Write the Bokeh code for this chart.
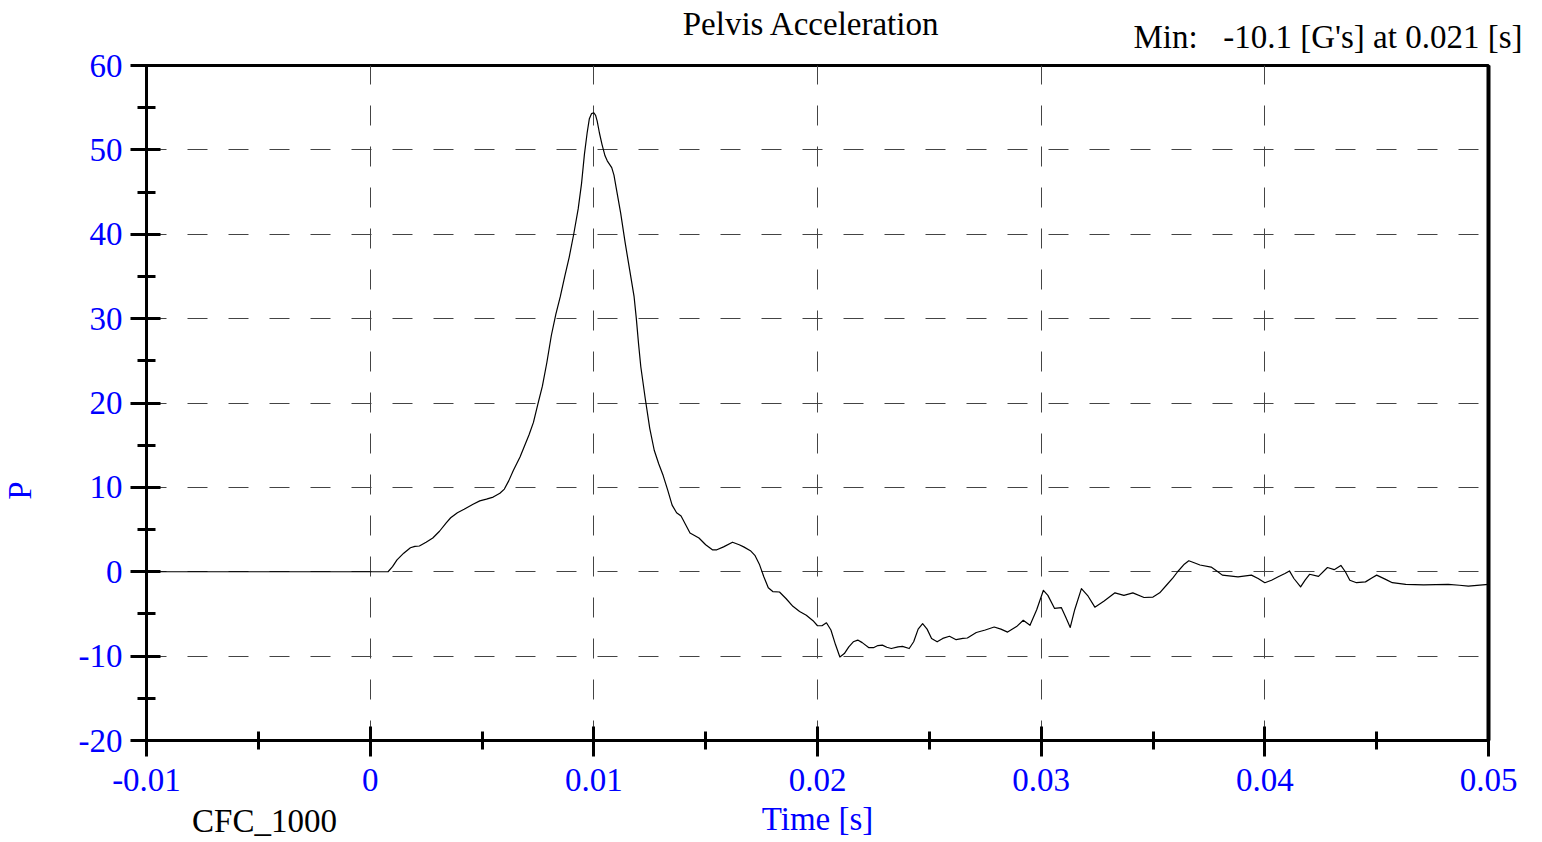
from bokeh.plotting import figure
from bokeh.models import Range1d, FixedTicker, LinearAxis, GridBox
from bokeh.layouts import column
from bokeh.core.properties import value
from bokeh.embed import file_html
from bokeh.resources import INLINE
import math

# ---- data ----
time_s = [-0.01, 0.0008, 0.0010, 0.0012, 0.0015, 0.0018, 0.0020, 0.0022, 0.0025, 0.0028,
          0.0031, 0.0034, 0.0036, 0.0039, 0.0042, 0.0046, 0.0049, 0.0052, 0.0055, 0.0058,
          0.0060, 0.0062, 0.0064, 0.0067, 0.0069, 0.0071, 0.0073, 0.0075, 0.0077, 0.0079,
          0.0081, 0.0083, 0.0085, 0.0087, 0.0089, 0.0091, 0.0093, 0.00945, 0.00958, 0.0097,
          0.0098, 0.0099, 0.0100, 0.01008, 0.01015, 0.01025, 0.01037, 0.0105, 0.0106, 0.0108,
          0.0109, 0.0110, 0.0112, 0.0114, 0.0116, 0.0118, 0.0119, 0.0120, 0.0121, 0.0123,
          0.0125, 0.0127, 0.0129, 0.0131, 0.0133, 0.0135, 0.0137, 0.0139, 0.0141, 0.0143,
          0.0145, 0.0147, 0.0150, 0.0153, 0.0155, 0.0158, 0.0162, 0.0165, 0.0167, 0.0170,
          0.0172, 0.0174, 0.0176, 0.0178, 0.0180, 0.0183, 0.0186, 0.0189, 0.0192, 0.0195,
          0.0198, 0.0200, 0.0202, 0.0204, 0.0206, 0.0208, 0.0210, 0.0212, 0.0214, 0.0216,
          0.0218, 0.0220, 0.0223, 0.0225, 0.0227, 0.0229, 0.0231, 0.0233, 0.0236, 0.0238,
          0.0241, 0.0243, 0.0245, 0.0247, 0.0249, 0.0251, 0.02535, 0.0256, 0.0259, 0.0262,
          0.0265, 0.0267, 0.0271, 0.0275, 0.0279, 0.0282, 0.0285, 0.0289, 0.0292, 0.0295,
          0.0298, 0.0301, 0.0303, 0.0306, 0.0309, 0.0311, 0.0313, 0.0315, 0.0318, 0.0321,
          0.0324, 0.0328, 0.0333, 0.0337, 0.0341, 0.0346, 0.0350, 0.0353, 0.0356, 0.0359,
          0.0361, 0.0364, 0.0366, 0.0369, 0.0371, 0.0376, 0.0379, 0.0381, 0.0388, 0.0394,
          0.0397, 0.0400, 0.0403, 0.0406, 0.0409, 0.0411, 0.0413, 0.0416, 0.0418, 0.0420,
          0.0424, 0.0428, 0.0431, 0.0434, 0.0436, 0.0438, 0.0441, 0.0445, 0.0448, 0.0450,
          0.0454, 0.0457, 0.0463, 0.0471, 0.0482, 0.0487, 0.0491, 0.0500]
accel_g = [0.0, 0.0, 0.6, 1.4, 2.2, 2.85, 3.0, 3.05, 3.5, 4.0,
           4.8, 5.8, 6.4, 7.0, 7.4, 8.0, 8.4, 8.6, 8.85, 9.3,
           9.8, 10.8, 12.0, 13.6, 14.9, 16.2, 17.7, 19.9, 22.0, 24.8,
           28.0, 30.5, 32.6, 35.0, 37.3, 40.0, 43.0, 46.0, 49.5, 52.0,
           53.7, 54.3, 54.4, 54.1, 53.4, 52.0, 50.6, 49.3, 48.7, 47.9,
           47.0, 45.5, 42.5, 39.0, 35.8, 32.6, 30.0, 27.0, 24.3, 20.5,
           17.0, 14.4, 12.8, 11.4, 9.7, 7.9, 7.0, 6.6, 5.6, 4.6,
           4.3, 4.0, 3.2, 2.6, 2.6, 2.95, 3.5, 3.2, 2.95, 2.5,
           1.95, 0.9, -0.6, -1.9, -2.35, -2.4, -3.2, -4.1, -4.7, -5.15,
           -5.8, -6.4, -6.4, -6.05, -6.9, -8.6, -10.1, -9.7, -8.9, -8.3,
           -8.1, -8.4, -9.0, -9.0, -8.75, -8.7, -8.95, -9.1, -8.9, -8.85,
           -9.1, -8.3, -6.8, -6.15, -6.8, -7.9, -8.3, -7.9, -7.65, -8.05,
           -7.9, -7.85, -7.2, -6.9, -6.55, -6.8, -7.15, -6.5, -5.75, -6.35,
           -4.5, -2.2, -2.8, -4.35, -4.25, -5.4, -6.6, -4.5, -2.0, -2.9,
           -4.2, -3.5, -2.5, -2.8, -2.5, -3.05, -3.0, -2.5, -1.6, -0.7,
           0.0, 0.9, 1.3, 1.0, 0.8, 0.55, 0.0, -0.4, -0.6, -0.4,
           -0.8, -1.3, -1.0, -0.6, -0.2, 0.1, -0.8, -1.8, -1.0, -0.3,
           -0.55, 0.5, 0.25, 0.75, 0.0, -1.0, -1.3, -1.2, -0.7, -0.4,
           -0.9, -1.3, -1.5, -1.55, -1.5, -1.6, -1.7, -1.5]

x_ticks = [-0.01, 0.0, 0.01, 0.02, 0.03, 0.04, 0.05]
x_tick_labels = ["-0.01", "0", "0.01", "0.02", "0.03", "0.04", "0.05"]
x_minor = [-0.005, 0.005, 0.015, 0.025, 0.035, 0.045]
y_ticks = [-20, -10, 0, 10, 20, 30, 40, 50, 60]
y_tick_labels = ["-20", "-10", "0", "10", "20", "30", "40", "50", "60"]
y_minor = [-15, -5, 5, 15, 25, 35, 45, 55]

title_text = "Pelvis Acceleration"
min_head = "Min:"
min_value = "-10.1 [G's] at 0.021 [s]"
filter_text = "CFC_1000"
x_label = "Time [s]"
y_label = "P"

FONT = "Liberation Serif"
FS = "33px"
BLUE = "#0000ff"

W, H = 1534, 840

# ---- main chart ----
p = figure(width=W, height=H, output_backend="svg", toolbar_location=None,
           x_range=Range1d(-0.01, 0.05), y_range=Range1d(-20, 60),
           min_border_left=146, min_border_right=W - 1488,
           min_border_top=65, min_border_bottom=H - 740,
           background_fill_color="white", border_fill_color="white")
p.title.visible = False

p.outline_line_color = "black"
p.outline_line_width = 3
p.outline_line_alpha = 1.0

for ax, ticks, minor, labs in ((p.xaxis[0], x_ticks, x_minor, x_tick_labels),
                               (p.yaxis[0], y_ticks, y_minor, y_tick_labels)):
    ax.ticker = FixedTicker(ticks=ticks, minor_ticks=minor)
    ax.major_label_overrides = {t: l for t, l in zip(ticks, labs)}
    ax.axis_line_width = 3
    ax.axis_line_color = "black"
    ax.major_tick_line_width = 3
    ax.minor_tick_line_width = 3
    ax.major_tick_in = 14
    ax.major_tick_out = 16
    ax.minor_tick_in = 9
    ax.minor_tick_out = 9
    ax.major_label_text_font = FONT
    ax.major_label_text_font_size = FS
    ax.major_label_text_color = BLUE
    ax.major_label_text_font_style = "normal"

p.xaxis[0].major_label_standoff = 12
p.yaxis[0].major_label_standoff = 8

right_ax = LinearAxis(ticker=FixedTicker(ticks=[]), axis_line_width=4, axis_line_color="black",
                      major_label_text_font_size="0px", major_tick_line_color=None,
                      minor_tick_line_color=None)
p.add_layout(right_ax, "right")

for g in (p.xgrid[0], p.ygrid[0]):
    g.grid_line_color = "#444444"
    g.grid_line_width = 1
    g.grid_line_dash = "20 21"
p.xgrid[0].ticker = FixedTicker(ticks=x_ticks)
p.ygrid[0].ticker = FixedTicker(ticks=y_ticks)

p.line(time_s, accel_g, line_color="black", line_width=1.2, line_join="round")

# ---- transparent text overlay (pixel coordinates, y downward) ----
ov = figure(width=W, height=H, output_backend="svg", toolbar_location=None,
            x_range=Range1d(0, W), y_range=Range1d(H, 0),
            x_axis_location=None, y_axis_location=None,
            min_border=0, min_border_left=0, min_border_right=0,
            min_border_top=0, min_border_bottom=0,
            background_fill_alpha=0, border_fill_alpha=0)
ov.title.visible = False
ov.outline_line_color = None
ov.grid.visible = False


def put_text(x, y, s, color, align="center", angle=0.0):
    ov.text(x=[x], y=[y], text=[s], text_font=value(FONT), text_font_size=value(FS),
            text_color=color, text_align=align, text_baseline="middle", angle=angle)


put_text(811, 23.5, title_text, "black")
put_text(1133, 36, min_head, "black", align="left")
put_text(1522, 36, min_value, "black", align="right")
put_text(264, 820.5, filter_text, "black")
put_text(817, 818.5, x_label, BLUE)
put_text(19, 490, y_label, BLUE, angle=math.pi / 2)

layout = GridBox(children=[(p, 0, 0), (column(ov, width=W, height=H), 0, 0)])

open("out.html", "w").write(file_html(layout, INLINE))
